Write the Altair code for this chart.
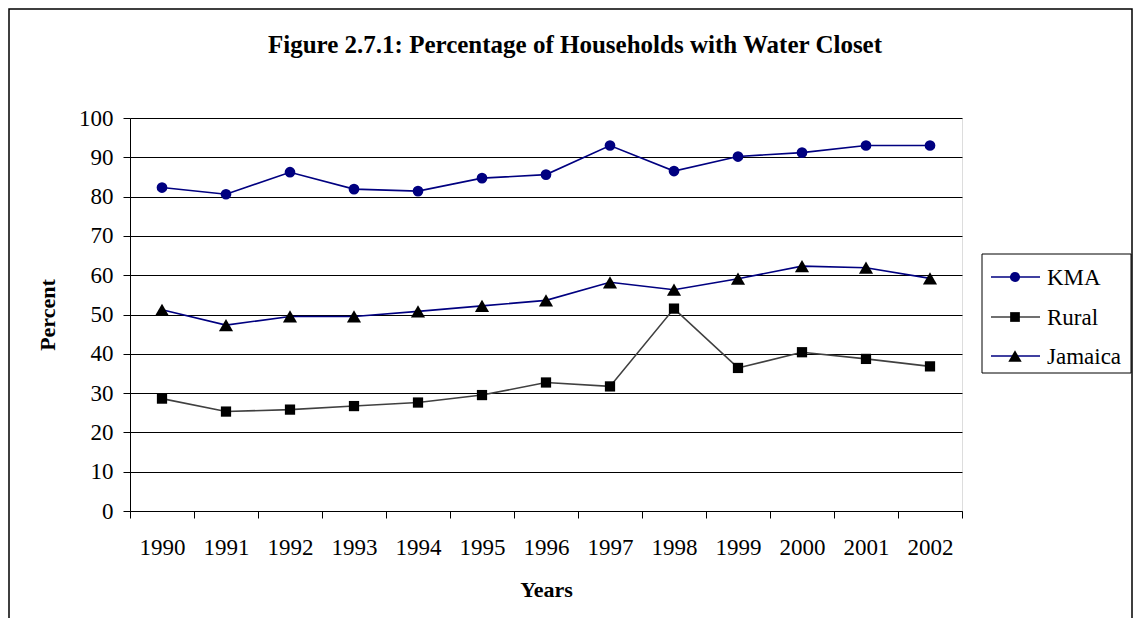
import altair as alt
import pandas as pd

years = [str(y) for y in range(1990, 2003)]
series_names = ["KMA", "Rural", "Jamaica"]
kma = [82.3, 80.6, 86.2, 81.9, 81.4, 84.7, 85.6, 93.0, 86.5, 90.2, 91.2, 93.0, 93.0]
rural = [28.6, 25.3, 25.8, 26.7, 27.6, 29.5, 32.7, 31.7, 51.5, 36.4, 40.4, 38.7, 36.8]
jamaica = [51.2, 47.3, 49.5, 49.5, 50.8, 52.2, 53.6, 58.2, 56.3, 59.1, 62.3, 61.9, 59.2]
y_ticks = list(range(0, 101, 10))
title_text = "Figure 2.7.1: Percentage of Households with Water Closet"

line_colors = ["#000080", "#404040", "#000080"]
marker_fills = ["#000080", "#000000", "#000000"]
marker_shapes = ["circle", "square", "triangle-up"]
marker_sizes = [115, 105, 200]

rows = []
for name, vals in zip(series_names, [kma, rural, jamaica]):
    for yr, v in zip(years, vals):
        rows.append({"Year": yr, "Series": name, "Value": v})
df = pd.DataFrame(rows)

FONT = "Liberation Serif"
W, H = 832, 393

x_enc = alt.X("Year:O", sort=years, title="Years",
              scale=alt.Scale(paddingInner=0, paddingOuter=0),
              axis=alt.Axis(labelAngle=0, tickBand="extent", tickSize=7,
                            labelPadding=18, titlePadding=20,
                            labelFontSize=23, titleFontSize=22,
                            labelFont=FONT, titleFont=FONT, titleFontWeight="bold",
                            labelColor="#000", titleColor="#000",
                            domainColor="#000", tickColor="#000", grid=False))
y_enc = alt.Y("Value:Q", title="Percent",
              scale=alt.Scale(domain=[0, 100], nice=False),
              axis=alt.Axis(values=y_ticks, tickSize=7, labelPadding=10,
                            titlePadding=19,
                            labelFontSize=23, titleFontSize=22,
                            labelFont=FONT, titleFont=FONT, titleFontWeight="bold",
                            labelColor="#000", titleColor="#000",
                            domainColor="#000", tickColor="#000",
                            grid=True, gridColor="#000", gridOpacity=1, gridWidth=1))

base = alt.Chart(df)
lines = base.mark_line(strokeWidth=1.6).encode(
    x=x_enc, y=y_enc,
    color=alt.Color("Series:N", scale=alt.Scale(domain=series_names, range=line_colors), legend=None),
    detail="Series:N",
)
point_layers = []
for i, name in enumerate(series_names):
    point_layers.append(base.transform_filter(alt.datum.Series == name).mark_point(
        filled=True, opacity=1, shape=marker_shapes[i], size=marker_sizes[i],
        fill=marker_fills[i], color=marker_fills[i]).encode(x=x_enc, y=y_enc))

# Manual legend (line + marker)
legend_box = alt.Chart(pd.DataFrame({"a": [0]})).mark_rect(
    fill="white", stroke="#000", strokeWidth=1).encode(
    x=alt.value(852), x2=alt.value(1001), y=alt.value(136), y2=alt.value(255))
legend_layers = [legend_box]
leg_y = [159, 199, 238]
for i, name in enumerate(series_names):
    d = alt.Chart(pd.DataFrame({"Series": [name]}))
    legend_layers.append(d.mark_rule(color=line_colors[i], strokeWidth=1.6).encode(
        x=alt.value(861), x2=alt.value(910), y=alt.value(leg_y[i])))
    legend_layers.append(d.mark_point(filled=True, size=marker_sizes[i] * 0.9, opacity=1,
                                      shape=marker_shapes[i], fill=marker_fills[i],
                                      color=marker_fills[i]).encode(
        x=alt.value(885), y=alt.value(leg_y[i])))
    legend_layers.append(d.mark_text(align="left", baseline="middle", font=FONT,
                                     fontSize=23, color="#000").encode(
        x=alt.value(917), y=alt.value(leg_y[i] + 1), text="Series:N"))

title_mark = alt.Chart(pd.DataFrame({"t": [title_text]})).mark_text(
    font=FONT, fontSize=25, fontWeight="bold", color="#000",
    align="center", baseline="middle").encode(
    x=alt.value(445), y=alt.value(-73), text="t:N")

frame = alt.Chart(pd.DataFrame({"a": [0]})).mark_rect(
    fill=None, stroke="#000", strokeWidth=1.5).encode(
    x=alt.value(-121), x2=alt.value(1002), y=alt.value(-109), y2=alt.value(520))

chart = alt.layer(frame, title_mark, lines, *point_layers, *legend_layers).properties(
    width=W, height=H,
    autosize=alt.AutoSizeParams(type="none"),
    padding={"left": 122, "top": 110, "right": 171, "bottom": 107},
).configure_view(fill="#C0C0C0", stroke="#808080", strokeWidth=1.5
).configure(background="white")

chart.save("out.html", embed_options={"renderer": "svg", "actions": False})
